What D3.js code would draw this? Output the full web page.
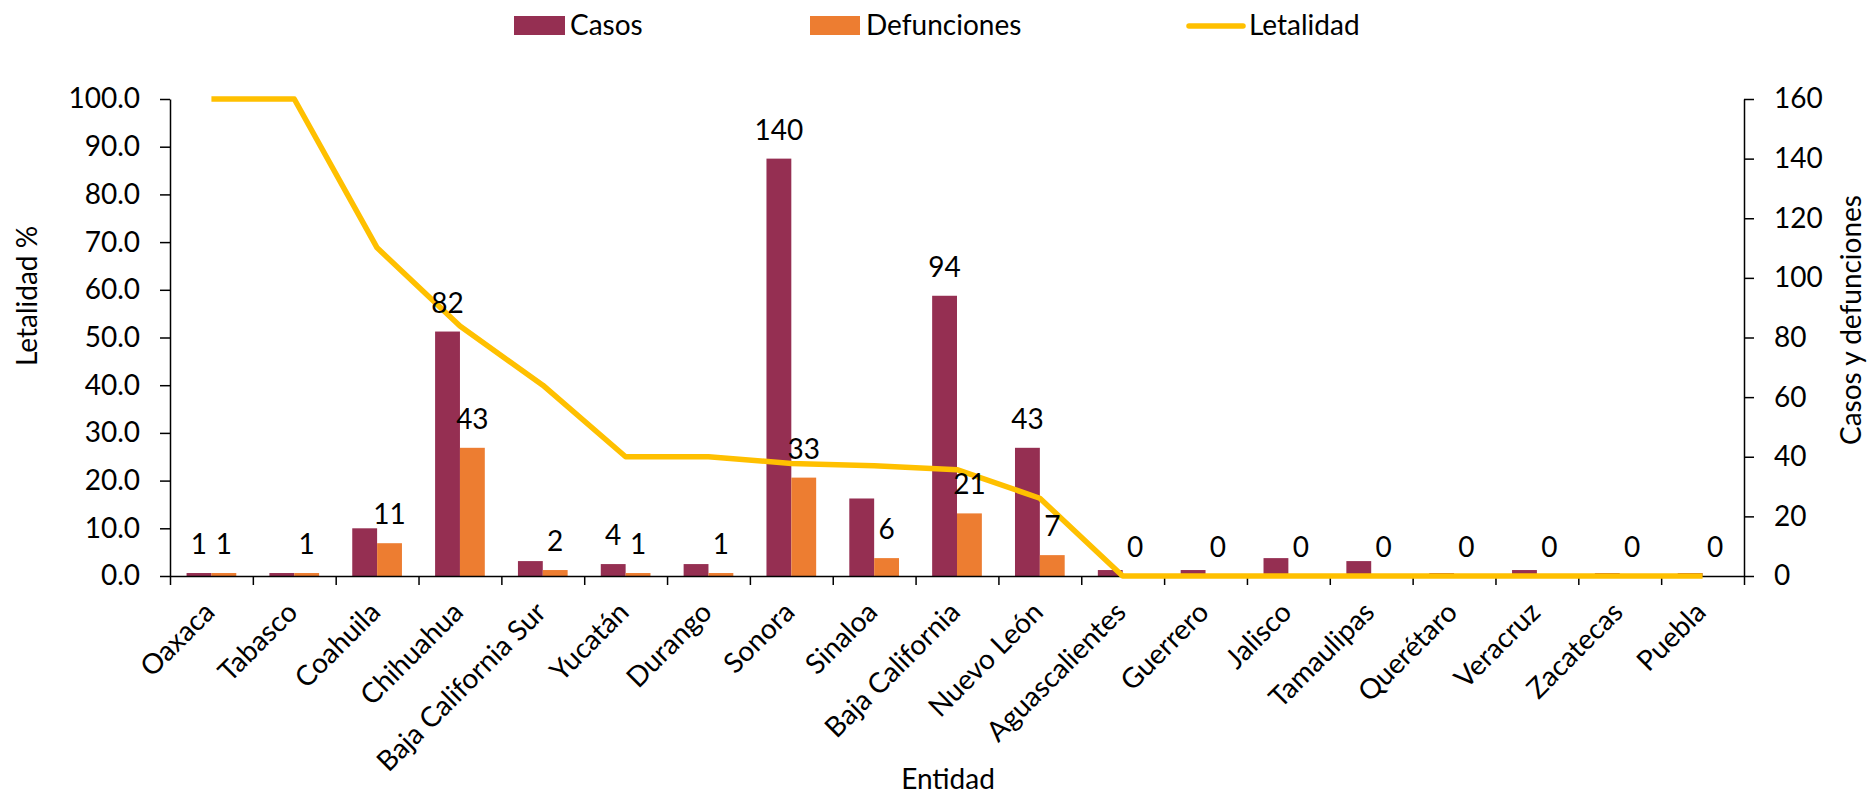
<!DOCTYPE html>
<html>
<head>
<meta charset="utf-8">
<script src="https://cdn.jsdelivr.net/npm/d3@7"></script>
<style>
  html, body { margin: 0; padding: 0; background: #fff; }
  svg { display: block; font-family: Lato, "Open Sans", sans-serif; }
  .axis path, .axis line { stroke: #000; stroke-width: 1.5px; }
  .axis text { font-family: Lato, sans-serif; font-size: 28px; fill: #000; }
</style>
</head>
<body>
<svg id="chart" width="1867" height="797"></svg>
<script>
// ---- data ----
const categories = ["Oaxaca","Tabasco","Coahuila","Chihuahua","Baja California Sur","Yucatán","Durango","Sonora","Sinaloa","Baja California","Nuevo León","Aguascalientes","Guerrero","Jalisco","Tamaulipas","Querétaro","Veracruz","Zacatecas","Puebla"];
const casos       = [1, 1, 16, 82, 5, 4, 4, 140, 26, 94, 43, 2, 2, 6, 5, 1, 2, 1, 1];
const defunciones = [1, 1, 11, 43, 2, 1, 1, 33, 6, 21, 7, 0, 0, 0, 0, 0, 0, 0, 0];
const letalidad   = [100, 100, 68.8, 52.4, 40, 25, 25, 23.6, 23.1, 22.3, 16.3, 0, 0, 0, 0, 0, 0, 0, 0];
const casosLabelShown = [true, false, false, true, false, true, false, true, false, true, true, false, false, false, false, false, false, false, false];
const defLabelShown   = [true, true, true, true, true, true, true, true, true, true, true, true, true, true, true, true, true, true, true];
const leftTicks  = [0, 10, 20, 30, 40, 50, 60, 70, 80, 90, 100];
const rightTicks = [0, 20, 40, 60, 80, 100, 120, 140, 160];
const seriesNames = ["Casos", "Defunciones", "Letalidad"];
const colors = { casos: "#952F52", def: "#ED7D31", let: "#FFC000" };

// ---- layout ----
const L = 170, R = 1744, T = 99, B = 576;
const FS = 28;
const svg = d3.select("#chart");

const x = d3.scaleBand().domain(categories).range([L, R]).padding(0);
const bw = x.bandwidth();
const x1 = d3.scaleBand().domain(["casos", "def"]).range([bw * 0.2, bw * 0.8]).padding(0);
const xb = d3.scaleLinear().domain([0, categories.length]).range([L, R]);
const yL = d3.scaleLinear().domain([0, 100]).range([B, T]);
const yR = d3.scaleLinear().domain([0, 160]).range([B, T]);

// bars
const rows = categories.map((c, i) => ({ c, i, casos: casos[i], def: defunciones[i] }));
const g = svg.append("g");
g.selectAll("rect.casos").data(rows).enter().append("rect")
  .attr("x", d => x(d.c) + x1("casos"))
  .attr("width", x1.bandwidth())
  .attr("y", d => yR(d.casos))
  .attr("height", d => B - yR(d.casos))
  .attr("fill", colors.casos);
g.selectAll("rect.def").data(rows).enter().append("rect")
  .attr("x", d => x(d.c) + x1("def"))
  .attr("width", x1.bandwidth())
  .attr("y", d => yR(d.def))
  .attr("height", d => B - yR(d.def))
  .attr("fill", colors.def);

// axes
svg.append("g").attr("class", "axis").attr("transform", `translate(0,${B})`)
  .call(d3.axisBottom(xb).tickValues(d3.range(categories.length + 1)).tickFormat("").tickSize(9).tickSizeOuter(0));
svg.append("g").attr("class", "axis").attr("transform", `translate(${L},0)`)
  .call(d3.axisLeft(yL).tickValues(leftTicks).tickFormat(d3.format(".1f")).tickSize(10).tickSizeOuter(0).tickPadding(20));
svg.append("g").attr("class", "axis").attr("transform", `translate(${R},0)`)
  .call(d3.axisRight(yR).tickValues(rightTicks).tickFormat(d3.format("d")).tickSize(10).tickSizeOuter(0).tickPadding(20));

// line
const line = d3.line().x((d, i) => x(categories[i]) + bw / 2).y(d => yL(d));
svg.append("path").datum(letalidad)
  .attr("d", line).attr("fill", "none")
  .attr("stroke", colors.let).attr("stroke-width", 5.5).attr("stroke-linejoin", "round");

// data labels
const lab = svg.append("g").attr("font-family", "Lato, sans-serif").attr("font-size", FS).attr("fill", "#000").attr("text-anchor", "middle");
rows.forEach(d => {
  if (casosLabelShown[d.i]) lab.append("text")
    .attr("x", x(d.c) + x1("casos") + x1.bandwidth() / 2)
    .attr("y", yR(d.casos) - 19).text(d.casos);
  if (defLabelShown[d.i]) lab.append("text")
    .attr("x", x(d.c) + x1("def") + x1.bandwidth() / 2)
    .attr("y", yR(d.def) - 19).text(d.def);
});

// category labels
const cl = svg.append("g").attr("font-family", "Lato, sans-serif").attr("font-size", FS).attr("fill", "#000");
categories.forEach(c => {
  cl.append("text")
    .attr("text-anchor", "end")
    .attr("transform", `translate(${x(c) + bw / 2 - 2},${607}) rotate(-45)`)
    .attr("dy", "0.35em")
    .text(c);
});

// axis titles
const tt = svg.append("g").attr("font-family", "Lato, sans-serif").attr("font-size", FS).attr("fill", "#000").attr("text-anchor", "middle");
tt.append("text").attr("transform", "translate(27,296) rotate(-90)").attr("dy", "0.35em").text("Letalidad %");
tt.append("text").attr("transform", "translate(1851,320) rotate(-90)").attr("dy", "0.35em").text("Casos y defunciones");
tt.append("text").attr("x", 948).attr("y", 789).text("Entidad");

// legend
const lg = svg.append("g").attr("font-family", "Lato, sans-serif").attr("font-size", FS).attr("fill", "#000");
lg.append("rect").attr("x", 514).attr("y", 16).attr("width", 51).attr("height", 19).attr("fill", colors.casos);
lg.append("text").attr("x", 570).attr("y", 35).text(seriesNames[0]);
lg.append("rect").attr("x", 810).attr("y", 16).attr("width", 50).attr("height", 19).attr("fill", colors.def);
lg.append("text").attr("x", 866).attr("y", 35).text(seriesNames[1]);
lg.append("line").attr("x1", 1189).attr("x2", 1243).attr("y1", 26).attr("y2", 26)
  .attr("stroke", colors.let).attr("stroke-width", 5.5).attr("stroke-linecap", "round");
lg.append("text").attr("x", 1249).attr("y", 35).text(seriesNames[2]);
</script>
</body>
</html>
